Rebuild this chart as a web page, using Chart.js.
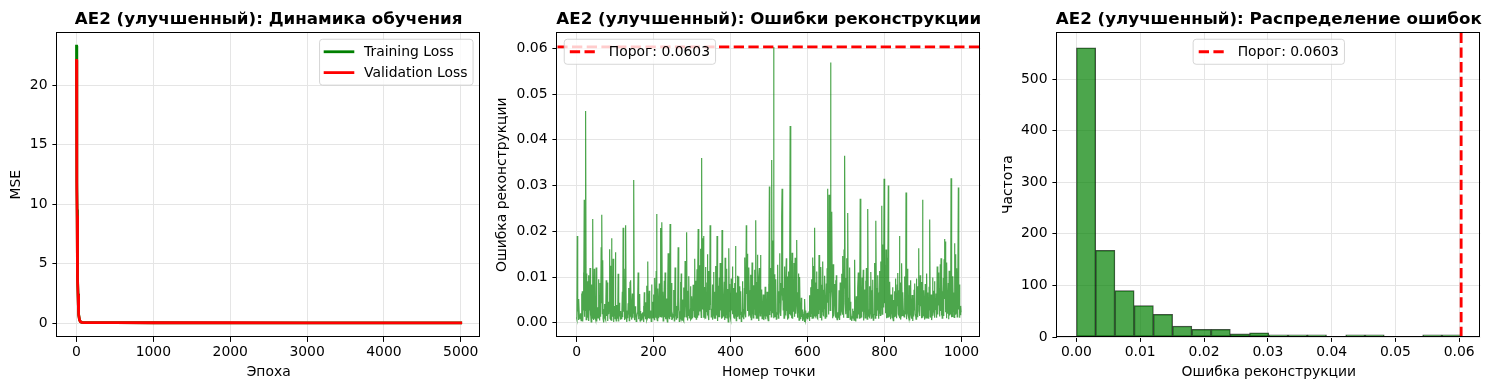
<!DOCTYPE html>
<html>
<head>
<meta charset="utf-8">
<title>AE2 (улучшенный)</title>
<script src="https://cdn.jsdelivr.net/npm/chart.js@4.4.1/dist/chart.umd.min.js"></script>
<style>
  html, body { margin: 0; padding: 0; background: #fff; }
  #wrap { position: relative; width: 1490px; height: 390px; }
  canvas { position: absolute; top: 0; }
</style>
</head>
<body>
<div id="wrap">
  <canvas id="lossChart" width="490" height="390" style="left:0"></canvas>
  <canvas id="errChart" width="500" height="390" style="left:490px"></canvas>
  <canvas id="histChart" width="500" height="390" style="left:990px"></canvas>
</div>
<script>
// кривые обучения (эпоха -> MSE)
const epochs    = [0, 2, 4, 6, 8, 10, 13, 16, 20, 25, 30, 40, 50, 70, 100, 200, 500, 1000, 2000, 3000, 4000, 4999];
const trainLoss = [23.3, 18.6, 14.9, 11.9, 9.5, 7.6, 5.4, 3.8, 2.4, 1.3, 0.72, 0.26, 0.12, 0.06, 0.045, 0.038, 0.033, 0.030, 0.027, 0.026, 0.025, 0.025];
const valLoss   = [22.1, 17.7, 14.1, 11.3, 9.0, 7.2, 5.1, 3.6, 2.3, 1.25, 0.69, 0.25, 0.12, 0.06, 0.046, 0.039, 0.034, 0.031, 0.028, 0.027, 0.026, 0.026];

// ошибки реконструкции по точкам (0..999)
const reconErrors = [
  0.0012, 0.0008, 0.0190, 0.0025, 0.0041, 0.0006, 0.0052, 0.0018, 0.0013, 0.0009,
  0.0017, 0.0021, 0.0005, 0.0064, 0.0015, 0.0069, 0.0003, 0.0028, 0.0110, 0.0040,
  0.0269, 0.0013, 0.0072, 0.0026, 0.0463, 0.0007, 0.0108, 0.0035, 0.0091, 0.0011,
  0.0019, 0.0104, 0.0004, 0.0036, 0.0027, 0.0120, 0.0016, 0.0020, 0.0002, 0.0084,
  0.0012, 0.0010, 0.0227, 0.0022, 0.0075, 0.0006, 0.0118, 0.0009, 0.0014, 0.0049,
  0.0008, 0.0121, 0.0026, 0.0003, 0.0034, 0.0017, 0.0011, 0.0095, 0.0012, 0.0024,
  0.0005, 0.0087, 0.0013, 0.0014, 0.0165, 0.0043, 0.0236, 0.0020, 0.0137, 0.0009,
  0.0016, 0.0001, 0.0029, 0.0041, 0.0011, 0.0010, 0.0007, 0.0093, 0.0022, 0.0015,
  0.0088, 0.0004, 0.0046, 0.0019, 0.0023, 0.0027, 0.0161, 0.0010, 0.0125, 0.0008,
  0.0006, 0.0185, 0.0023, 0.0071, 0.0013, 0.0140, 0.0002, 0.0016, 0.0018, 0.0037,
  0.0009, 0.0154, 0.0028, 0.0004, 0.0039, 0.0016, 0.0010, 0.0011, 0.0107, 0.0021,
  0.0003, 0.0044, 0.0014, 0.0026, 0.0007, 0.0021, 0.0019, 0.0008, 0.0012, 0.0068,
  0.0012, 0.0208, 0.0040, 0.0024, 0.0095, 0.0006, 0.0118, 0.0009, 0.0213, 0.0015,
  0.0019, 0.0002, 0.0027, 0.0010, 0.0043, 0.0018, 0.0076, 0.0005, 0.0022, 0.0090,
  0.0013, 0.0093, 0.0014, 0.0007, 0.0025, 0.0064, 0.0011, 0.0047, 0.0020, 0.0312,
  0.0012, 0.0006, 0.0036, 0.0015, 0.0029, 0.0003, 0.0008, 0.0012, 0.0021, 0.0058,
  0.0110, 0.0008, 0.0034, 0.0017, 0.0063, 0.0004, 0.0026, 0.0010, 0.0015, 0.0019,
  0.0005, 0.0020, 0.0023, 0.0011, 0.0037, 0.0002, 0.0067, 0.0014, 0.0028, 0.0008,
  0.0045, 0.0018, 0.0081, 0.0006, 0.0010, 0.0134, 0.0013, 0.0012, 0.0024, 0.0070,
  0.0009, 0.0017, 0.0016, 0.0027, 0.0003, 0.0084, 0.0021, 0.0012, 0.0046, 0.0011,
  0.0015, 0.0062, 0.0007, 0.0098, 0.0024, 0.0040, 0.0011, 0.0113, 0.0238, 0.0010,
  0.0005, 0.0075, 0.0019, 0.0048, 0.0010, 0.0086, 0.0028, 0.0014, 0.0022, 0.0207,
  0.0013, 0.0122, 0.0220, 0.0017, 0.0068, 0.0004, 0.0041, 0.0022, 0.0092, 0.0012,
  0.0110, 0.0026, 0.0008, 0.0053, 0.0016, 0.0011, 0.0002, 0.0079, 0.0152, 0.0020,
  0.0015, 0.0009, 0.0066, 0.0216, 0.0031, 0.0013, 0.0087, 0.0006, 0.0025, 0.0019,
  0.0011, 0.0013, 0.0019, 0.0072, 0.0004, 0.0029, 0.0121, 0.0014, 0.0047, 0.0008,
  0.0037, 0.0022, 0.0012, 0.0010, 0.0165, 0.0027, 0.0056, 0.0003, 0.0009, 0.0018,
  0.0089, 0.0012, 0.0108, 0.0010, 0.0006, 0.0051, 0.0024, 0.0015, 0.0077, 0.0009,
  0.0014, 0.0020, 0.0135, 0.0037, 0.0061, 0.0013, 0.0198, 0.0028, 0.0005, 0.0070,
  0.0016, 0.0035, 0.0102, 0.0011, 0.0017, 0.0023, 0.0080, 0.0007, 0.0009, 0.0058,
  0.0019, 0.0044, 0.0010, 0.0083, 0.0026, 0.0062, 0.0014, 0.0140, 0.0012, 0.0021,
  0.0092, 0.0008, 0.0055, 0.0117, 0.0011, 0.0071, 0.0205, 0.0018, 0.0016, 0.0126,
  0.0025, 0.0096, 0.0162, 0.0040, 0.0012, 0.0360, 0.0067, 0.0185, 0.0029, 0.0104,
  0.0190, 0.0011, 0.0078, 0.0015, 0.0018, 0.0122, 0.0009, 0.0033, 0.0024, 0.0088,
  0.0150, 0.0017, 0.0016, 0.0113, 0.0006, 0.0073, 0.0028, 0.0213, 0.0039, 0.0097,
  0.0013, 0.0022, 0.0026, 0.0084, 0.0007, 0.0041, 0.0111, 0.0020, 0.0010, 0.0068,
  0.0010, 0.0015, 0.0124, 0.0029, 0.0016, 0.0190, 0.0052, 0.0004, 0.0081, 0.0012,
  0.0021, 0.0099, 0.0012, 0.0131, 0.0044, 0.0027, 0.0065, 0.0009, 0.0203, 0.0011,
  0.0106, 0.0015, 0.0019, 0.0023, 0.0090, 0.0006, 0.0142, 0.0010, 0.0048, 0.0018,
  0.0118, 0.0011, 0.0074, 0.0036, 0.0002, 0.0020, 0.0163, 0.0025, 0.0085, 0.0014,
  0.0014, 0.0008, 0.0097, 0.0027, 0.0061, 0.0123, 0.0019, 0.0050, 0.0011, 0.0076,
  0.0010, 0.0087, 0.0015, 0.0168, 0.0039, 0.0005, 0.0066, 0.0022, 0.0103, 0.0013,
  0.0101, 0.0029, 0.0018, 0.0009, 0.0080, 0.0035, 0.0017, 0.0069, 0.0003, 0.0015,
  0.0024, 0.0091, 0.0012, 0.0019, 0.0030, 0.0008, 0.0075, 0.0143, 0.0020, 0.0112,
  0.0012, 0.0213, 0.0063, 0.0151, 0.0144, 0.0026, 0.0094, 0.0014, 0.0121, 0.0048,
  0.0016, 0.0071, 0.0011, 0.0105, 0.0007, 0.0045, 0.0132, 0.0022, 0.0028, 0.0011,
  0.0082, 0.0028, 0.0040, 0.0116, 0.0018, 0.0017, 0.0224, 0.0010, 0.0089, 0.0010,
  0.0149, 0.0025, 0.0067, 0.0004, 0.0098, 0.0120, 0.0038, 0.0015, 0.0148, 0.0019,
  0.0021, 0.0073, 0.0009, 0.0044, 0.0012, 0.0062, 0.0027, 0.0006, 0.0016, 0.0019,
  0.0079, 0.0010, 0.0008, 0.0048, 0.0014, 0.0068, 0.0023, 0.0011, 0.0005, 0.0085,
  0.0042, 0.0298, 0.0017, 0.0064, 0.0026, 0.0120, 0.0013, 0.0356, 0.0090, 0.0021,
  0.0180, 0.0047, 0.0603, 0.0010, 0.0106, 0.0012, 0.0072, 0.0012, 0.0095, 0.0008,
  0.0021, 0.0019, 0.0083, 0.0127, 0.0010, 0.0011, 0.0069, 0.0044, 0.0152, 0.0024,
  0.0087, 0.0015, 0.0061, 0.0232, 0.0293, 0.0049, 0.0114, 0.0028, 0.0076, 0.0010,
  0.0123, 0.0012, 0.0019, 0.0018, 0.0093, 0.0141, 0.0026, 0.0034, 0.0007, 0.0101,
  0.0011, 0.0112, 0.0020, 0.0079, 0.0045, 0.0430, 0.0063, 0.0016, 0.0136, 0.0010,
  0.0153, 0.0009, 0.0070, 0.0041, 0.0024, 0.0131, 0.0013, 0.0085, 0.0142, 0.0027,
  0.0020, 0.0096, 0.0181, 0.0035, 0.0011, 0.0067, 0.0022, 0.0108, 0.0006, 0.0016,
  0.0100, 0.0017, 0.0012, 0.0008, 0.0055, 0.0013, 0.0029, 0.0004, 0.0015, 0.0019,
  0.0010, 0.0011, 0.0002, 0.0052, 0.0015, 0.0027, 0.0007, 0.0013, 0.0012, 0.0022,
  0.0010, 0.0008, 0.0015, 0.0017, 0.0025, 0.0004, 0.0060, 0.0014, 0.0037, 0.0078,
  0.0021, 0.0095, 0.0010, 0.0052, 0.0143, 0.0011, 0.0124, 0.0070, 0.0014, 0.0208,
  0.0026, 0.0088, 0.0015, 0.0018, 0.0112, 0.0011, 0.0009, 0.0074, 0.0046, 0.0019,
  0.0148, 0.0028, 0.0066, 0.0012, 0.0091, 0.0122, 0.0040, 0.0005, 0.0083, 0.0023,
  0.0134, 0.0017, 0.0016, 0.0072, 0.0031, 0.0103, 0.0010, 0.0021, 0.0024, 0.0086,
  0.0012, 0.0119, 0.0293, 0.0044, 0.0097, 0.0018, 0.0280, 0.0065, 0.0131, 0.0027,
  0.0569, 0.0052, 0.0078, 0.0243, 0.0109, 0.0010, 0.0062, 0.0128, 0.0014, 0.0085,
  0.0041, 0.0068, 0.0020, 0.0093, 0.0011, 0.0104, 0.0011, 0.0007, 0.0019, 0.0023,
  0.0015, 0.0013, 0.0071, 0.0029, 0.0006, 0.0088, 0.0039, 0.0016, 0.0061, 0.0107,
  0.0025, 0.0146, 0.0018, 0.0118, 0.0011, 0.0160, 0.0075, 0.0365, 0.0042, 0.0098,
  0.0019, 0.0082, 0.0141, 0.0012, 0.0064, 0.0240, 0.0012, 0.0055, 0.0028, 0.0090,
  0.0121, 0.0008, 0.0046, 0.0023, 0.0011, 0.0004, 0.0013, 0.0016, 0.0031, 0.0010,
  0.0026, 0.0006, 0.0014, 0.0138, 0.0015, 0.0012, 0.0003, 0.0058, 0.0021, 0.0011,
  0.0016, 0.0077, 0.0110, 0.0018, 0.0039, 0.0063, 0.0009, 0.0271, 0.0010, 0.0084,
  0.0013, 0.0017, 0.0099, 0.0024, 0.0068, 0.0116, 0.0005, 0.0045, 0.0027, 0.0073,
  0.0011, 0.0092, 0.0017, 0.0120, 0.0041, 0.0008, 0.0065, 0.0249, 0.0029, 0.0019,
  0.0014, 0.0080, 0.0012, 0.0022, 0.0047, 0.0111, 0.0010, 0.0071, 0.0025, 0.0012,
  0.0094, 0.0006, 0.0017, 0.0018, 0.0087, 0.0131, 0.0010, 0.0060, 0.0223, 0.0044,
  0.0015, 0.0076, 0.0027, 0.0104, 0.0039, 0.0009, 0.0066, 0.0020, 0.0113, 0.0016,
  0.0134, 0.0024, 0.0082, 0.0256, 0.0019, 0.0102, 0.0171, 0.0035, 0.0119, 0.0315,
  0.0088, 0.0043, 0.0125, 0.0021, 0.0160, 0.0064, 0.0010, 0.0142, 0.0011, 0.0073,
  0.0300, 0.0012, 0.0018, 0.0016, 0.0090, 0.0026, 0.0008, 0.0062, 0.0019, 0.0040,
  0.0012, 0.0078, 0.0011, 0.0005, 0.0050, 0.0023, 0.0069, 0.0014, 0.0015, 0.0097,
  0.0028, 0.0060, 0.0010, 0.0084, 0.0036, 0.0109, 0.0019, 0.0017, 0.0071, 0.0190,
  0.0010, 0.0088, 0.0007, 0.0015, 0.0022, 0.0130, 0.0039, 0.0015, 0.0067, 0.0026,
  0.0017, 0.0013, 0.0101, 0.0035, 0.0070, 0.0018, 0.0285, 0.0014, 0.0008, 0.0063,
  0.0118, 0.0024, 0.0015, 0.0011, 0.0082, 0.0010, 0.0005, 0.0056, 0.0093, 0.0017,
  0.0012, 0.0009, 0.0061, 0.0022, 0.0004, 0.0044, 0.0014, 0.0072, 0.0027, 0.0086,
  0.0019, 0.0016, 0.0008, 0.0097, 0.0011, 0.0065, 0.0012, 0.0080, 0.0040, 0.0163,
  0.0026, 0.0018, 0.0015, 0.0104, 0.0036, 0.0074, 0.0010, 0.0089, 0.0015, 0.0269,
  0.0014, 0.0016, 0.0071, 0.0029, 0.0058, 0.0007, 0.0085, 0.0021, 0.0011, 0.0012,
  0.0108, 0.0011, 0.0066, 0.0019, 0.0049, 0.0009, 0.0079, 0.0027, 0.0226, 0.0014,
  0.0013, 0.0062, 0.0010, 0.0006, 0.0017, 0.0099, 0.0018, 0.0040, 0.0070, 0.0024,
  0.0091, 0.0011, 0.0047, 0.0028, 0.0064, 0.0015, 0.0011, 0.0123, 0.0018, 0.0020,
  0.0110, 0.0038, 0.0075, 0.0014, 0.0020, 0.0128, 0.0026, 0.0141, 0.0016, 0.0083,
  0.0010, 0.0069, 0.0017, 0.0098, 0.0015, 0.0139, 0.0183, 0.0052, 0.0178, 0.0023,
  0.0076, 0.0010, 0.0132, 0.0039, 0.0062, 0.0020, 0.0087, 0.0008, 0.0114, 0.0016,
  0.0028, 0.0095, 0.0018, 0.0316, 0.0012, 0.0073, 0.0014, 0.0043, 0.0102, 0.0025,
  0.0066, 0.0012, 0.0174, 0.0034, 0.0019, 0.0150, 0.0021, 0.0081, 0.0119, 0.0013,
  0.0016, 0.0070, 0.0296, 0.0029, 0.0084, 0.0011, 0.0017, 0.0018, 0.0037, 0.0023
];
const threshold = 0.0603;

// гистограмма: 20 интервалов от 0 до порога
const binEdges = [0, 0.003015, 0.00603, 0.009045, 0.01206, 0.015075, 0.01809, 0.021105, 0.02412, 0.027135,
  0.03015, 0.033165, 0.03618, 0.039195, 0.04221, 0.045225, 0.04824, 0.051255, 0.05427, 0.057285, 0.0603];
const binCounts = [561, 168, 90, 61, 44, 21, 15, 15, 6, 8, 4, 3, 1, 0, 1, 1, 0, 0, 1, 1];

// подписи делений
const epochTicks = [0, 1000, 2000, 3000, 4000, 5000];
const mseTicks = [0, 5, 10, 15, 20];
const pointTicks = [0, 200, 400, 600, 800, 1000];
const errTicks = [0, 0.01, 0.02, 0.03, 0.04, 0.05, 0.06];
const countTicks = [0, 100, 200, 300, 400, 500];

const FS = 13.9;
Chart.defaults.font.family = '"DejaVu Sans", sans-serif';
Chart.defaults.font.size = FS;
Chart.defaults.color = '#000';

// рамка осей, заголовок и легенда в стиле matplotlib
const mplDecor = {
  id: 'mplDecor',
  afterDraw(chart, args, opts) {
    const { ctx, chartArea: a } = chart;
    ctx.save();
    ctx.strokeStyle = '#000';
    ctx.lineWidth = 1;
    const l = Math.round(a.left) - 0.5, t = Math.round(a.top) + 0.5;
    const r = Math.round(a.right) - 0.5, b = Math.round(a.bottom) - 0.5;
    ctx.strokeRect(l, t, r - l, b - t);

    ctx.fillStyle = '#000';
    ctx.font = 'bold 16.7px "DejaVu Sans"';
    ctx.textAlign = 'center';
    ctx.textBaseline = 'alphabetic';
    ctx.fillText(opts.title, (a.left + a.right) / 2, 24);

    const items = chart.data.datasets.filter(d => d.label);
    ctx.font = FS + 'px "DejaVu Sans"';
    const pad = 0.4 * FS, hl = 2 * FS, hp = 0.8 * FS, gap = 0.5 * FS, ax = 0.5 * FS;
    const tw = Math.max(...items.map(d => ctx.measureText(d.label).width));
    const w = 2 * pad + hl + hp + tw;
    const h = 2 * pad + items.length * FS + (items.length - 1) * gap;
    const x = opts.legend === 'upper right' ? a.right - ax - w
            : opts.legend === 'upper left' ? a.left + ax
            : (a.left + a.right - w) / 2;
    const y = a.top + ax;
    ctx.beginPath();
    ctx.roundRect(x, y, w, h, 3);
    ctx.fillStyle = 'rgba(255,255,255,0.8)';
    ctx.fill();
    ctx.strokeStyle = 'rgba(204,204,204,0.8)';
    ctx.stroke();
    items.forEach((d, i) => {
      const cy = y + pad + FS / 2 + i * (FS + gap);
      ctx.beginPath();
      ctx.setLineDash(d.borderDash || []);
      ctx.lineCap = d.borderDash ? 'butt' : 'square';
      ctx.strokeStyle = d.borderColor;
      ctx.lineWidth = d.borderWidth;
      ctx.moveTo(x + pad, cy);
      ctx.lineTo(x + pad + hl, cy);
      ctx.stroke();
      ctx.setLineDash([]);
      ctx.fillStyle = '#000';
      ctx.textAlign = 'left';
      ctx.textBaseline = 'middle';
      ctx.fillText(d.label, x + pad + hl + hp, cy + 0.5);
    });
    ctx.restore();
  }
};

function axis({ min, max, ticks, fmt, title, size, tickPad, titlePad, vertical }) {
  return {
    type: 'linear', min, max, offset: false,
    afterBuildTicks: s => { s.ticks = ticks.map(v => ({ value: v })); },
    afterFit: s => { if (vertical) s.width = size; else s.height = size; },
    ticks: { color: '#000', padding: tickPad, callback: fmt, autoSkip: false, maxRotation: 0 },
    grid: { color: '#e5e5e5', lineWidth: 1, tickColor: '#000', tickLength: 4.9, tickWidth: 1, offset: false },
    border: { display: false },
    title: { display: true, text: title, color: '#000', padding: titlePad },
  };
}

function baseOptions(title, legend, right, xAxis, yAxis) {
  return {
    responsive: false,
    animation: false,
    devicePixelRatio: 1,
    events: [],
    layout: { padding: { top: 32.3, right: right, left: 0, bottom: 0 } },
    scales: { x: xAxis, y: yAxis },
    plugins: { legend: { display: false }, tooltip: { enabled: false }, title: { display: false },
               mplDecor: { title, legend } },
  };
}

const intFmt = v => String(v);
const fix2 = v => v.toFixed(2);

// 1) динамика обучения
new Chart(document.getElementById('lossChart'), {
  type: 'line',
  data: {
    datasets: [
      { label: 'Training Loss', data: epochs.map((e, i) => ({ x: e, y: trainLoss[i] })),
        borderColor: '#008000', borderWidth: 2.8, pointRadius: 0, borderCapStyle: 'square', borderJoinStyle: 'round', order: 2 },
      { label: 'Validation Loss', data: epochs.map((e, i) => ({ x: e, y: valLoss[i] })),
        borderColor: '#ff0000', borderWidth: 2.8, pointRadius: 0, borderCapStyle: 'square', borderJoinStyle: 'round', order: 1 },
    ]
  },
  options: baseOptions('AE2 (улучшенный): Динамика обучения', 'upper right', 10,
    axis({ min: -250, max: 5250, ticks: epochTicks, fmt: intFmt, title: 'Эпоха', size: 53, tickPad: 2.2, titlePad: { top: 2, bottom: 9.7 } }),
    axis({ min: -1.17, max: 24.47, ticks: mseTicks, fmt: intFmt, title: 'MSE', size: 57.3, tickPad: 4.9, titlePad: { top: 8.4, bottom: 2 }, vertical: true })),
  plugins: [mplDecor]
});

// 2) ошибки реконструкции
const errX = [-50, 1049];
new Chart(document.getElementById('errChart'), {
  type: 'line',
  data: {
    datasets: [
      { data: reconErrors.map((v, i) => ({ x: i, y: v })),
        borderColor: 'rgba(0,128,0,0.7)', borderWidth: 1.2, pointRadius: 0, order: 1 },
      { label: 'Порог: ' + threshold.toFixed(4), data: errX.map(x => ({ x, y: threshold })),
        borderColor: '#ff0000', borderWidth: 2.8, borderDash: [10.3, 4.4], pointRadius: 0, order: 0 },
    ]
  },
  options: baseOptions('AE2 (улучшенный): Ошибки реконструкции', 'upper left', 9.7,
    axis({ min: errX[0], max: errX[1], ticks: pointTicks, fmt: intFmt, title: 'Номер точки', size: 53, tickPad: 2.2, titlePad: { top: 2, bottom: 9.7 } }),
    axis({ min: -0.0031, max: 0.0635, ticks: errTicks, fmt: fix2, title: 'Ошибка реконструкции', size: 67.3, tickPad: 4.9, titlePad: { top: 4.4, bottom: 2 }, vertical: true })),
  plugins: [mplDecor]
});

// 3) распределение ошибок
const histY = [0, 591];
new Chart(document.getElementById('histChart'), {
  type: 'bar',
  data: {
    datasets: [
      // пустые интервалы не рисуем, одиночные видны как тонкая полоска (minBarLength)
      { data: binCounts.map((c, i) => ({ x: (binEdges[i] + binEdges[i + 1]) / 2, y: c || null })),
        backgroundColor: 'rgba(0,128,0,0.7)', borderColor: 'rgba(0,0,0,0.7)', borderWidth: 0.8,
        borderSkipped: false, barPercentage: 1, categoryPercentage: 1, minBarLength: 2.2, order: 1 },
      { type: 'line', label: 'Порог: ' + threshold.toFixed(4), data: histY.map(y => ({ x: threshold, y })),
        borderColor: '#ff0000', borderWidth: 2.8, borderDash: [10.3, 4.4], pointRadius: 0, order: 0 },
    ]
  },
  options: baseOptions('AE2 (улучшенный): Распределение ошибок', 'upper center', 9.7,
    axis({ min: -0.003, max: 0.0633, ticks: errTicks, fmt: fix2, title: 'Ошибка реконструкции', size: 53, tickPad: 2.2, titlePad: { top: 2, bottom: 9.7 } }),
    axis({ min: histY[0], max: histY[1], ticks: countTicks, fmt: intFmt, title: 'Частота', size: 67.3, tickPad: 4.9, titlePad: { top: 10, bottom: 2 }, vertical: true })),
  plugins: [mplDecor]
});
</script>
</body>
</html>
